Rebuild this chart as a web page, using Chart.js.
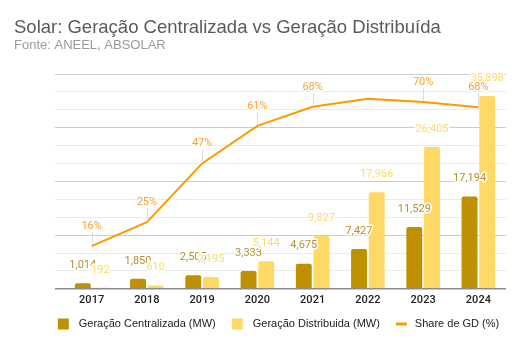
<!DOCTYPE html>
<html lang="pt-BR">
<head>
<meta charset="utf-8">
<title>Solar: Geração Centralizada vs Geração Distribuída</title>
<script src="https://cdn.jsdelivr.net/npm/chart.js@4/dist/chart.umd.min.js"></script>
<style>
    html, body { margin: 0; padding: 0; background: #fff; }
    #wrap { width: 515px; height: 339px; }
</style>
</head>
<body>
<div id="wrap"><canvas id="solarChart"></canvas></div>
<script>
// Dados (MW) - ANEEL, ABSOLAR
const anos = ['2017', '2018', '2019', '2020', '2021', '2022', '2023', '2024'];
const geracaoCentralizada = [1014, 1850, 2505, 3333, 4675, 7427, 11529, 17194];
const geracaoDistribuida = [192, 610, 2195, 5144, 9827, 17966, 26405, 35898];
const shareGD = [15.9, 24.8, 46.7, 60.7, 67.8, 70.8, 69.6, 67.6];
const shareSemRotulo = ['2022']; // rótulo oculto no original

const TITULO = 'Solar: Geração Centralizada vs Geração Distribuída';
const SUBTITULO = 'Fonte: ANEEL, ABSOLAR';

const CORES = {
    centralizada: '#bf9000',
    distribuida: '#ffd966',
    share: '#ff9900',
    rotuloCentralizada: '#b3902f',
    rotuloShare: '#ff9f2e'
};

const FONTE_TEXTO = '"Liberation Sans", Arial, sans-serif';

const fmt = (v) => v.toLocaleString('en-US');

// Título e subtítulo com linha de base fixa
const tituloPlugin = {
    id: 'tituloManual',
    afterDraw(chart) {
        const ctx = chart.ctx;
        ctx.save();
        ctx.textAlign = 'left';
        ctx.textBaseline = 'alphabetic';
        ctx.font = '18.5px ' + FONTE_TEXTO;
        ctx.fillStyle = '#5a5a5a';
        ctx.fillText(TITULO, 14, 33);
        ctx.font = '13px ' + FONTE_TEXTO;
        ctx.fillStyle = '#9a9a9a';
        ctx.fillText(SUBTITULO, 14, 49);
        ctx.restore();
    }
};

// Rótulos de valores sobre barras e pontos
const rotulosPlugin = {
    id: 'rotulos',
    afterDatasetsDraw(chart) {
        const ctx = chart.ctx;
        ctx.save();
        ctx.font = '11px Roboto';
        ctx.textAlign = 'center';
        ctx.textBaseline = 'middle';
        ctx.lineJoin = 'round';

        [0, 1].forEach((di) => {
            const meta = chart.getDatasetMeta(di);
            const ds = chart.data.datasets[di];
            meta.data.forEach((bar, i) => {
                const txt = fmt(ds.data[i]);
                const y = bar.y - 18;
                ctx.strokeStyle = '#fff';
                ctx.lineWidth = 3;
                ctx.strokeText(txt, bar.x, y);
                ctx.fillStyle = di === 0 ? CORES.rotuloCentralizada : CORES.distribuida;
                ctx.fillText(txt, bar.x, y);
            });
        });

        const metaLinha = chart.getDatasetMeta(2);
        metaLinha.data.forEach((pt, i) => {
            if (shareSemRotulo.includes(anos[i])) return;
            const y = pt.y - 20;
            ctx.strokeStyle = '#dddddd';
            ctx.lineWidth = 1;
            ctx.beginPath();
            ctx.moveTo(Math.round(pt.x) + 0.5, y + 6);
            ctx.lineTo(Math.round(pt.x) + 0.5, pt.y - 1);
            ctx.stroke();
            const txt = Math.round(shareGD[i]) + '%';
            ctx.strokeStyle = '#fff';
            ctx.lineWidth = 3;
            ctx.strokeText(txt, pt.x, y);
            ctx.fillStyle = CORES.rotuloShare;
            ctx.fillText(txt, pt.x, y);
        });
        ctx.restore();
    }
};

// Legenda desenhada à mão (quadrados + linha)
const legendaPlugin = {
    id: 'legenda',
    afterDraw(chart) {
        const ctx = chart.ctx;
        const area = chart.chartArea;
        ctx.save();
        ctx.font = '11px ' + FONTE_TEXTO;
        ctx.textBaseline = 'middle';
        const itens = chart.data.datasets.map((ds) => ({
            label: ds.label,
            cor: ds.type === 'line' ? ds.borderColor : ds.backgroundColor,
            linha: ds.type === 'line'
        }));
        const box = 11, gapTexto = 10, gapItem = 16;
        let total = 0;
        itens.forEach((it, i) => {
            it.w = box + (it.linha ? 8 : gapTexto) + ctx.measureText(it.label).width;
            total += it.w + (i > 0 ? gapItem : 0);
        });
        let x = (area.left - 9 + area.right) / 2 - 2 - total / 2;
        const y = 324;
        itens.forEach((it) => {
            ctx.fillStyle = it.cor;
            if (it.linha) {
                ctx.fillRect(x, y - 1.5, box, 3);
            } else {
                ctx.fillRect(x, y - box / 2, box, box);
            }
            ctx.fillStyle = '#222';
            ctx.fillText(it.label, x + box + (it.linha ? 8 : gapTexto), y);
            x += it.w + gapItem;
        });
        ctx.restore();
    }
};

const ctx = document.getElementById('solarChart').getContext('2d');
new Chart(ctx, {
    data: {
        labels: anos,
        datasets: [
            {
                type: 'bar',
                label: 'Geração Centralizada (MW)',
                data: geracaoCentralizada,
                backgroundColor: CORES.centralizada,
                borderRadius: { topLeft: 2, topRight: 2 },
                borderSkipped: false,
                categoryPercentage: 0.64,
                barPercentage: 0.9,
                yAxisID: 'y',
                order: 2
            },
            {
                type: 'bar',
                label: 'Geração Distribuida (MW)',
                data: geracaoDistribuida,
                backgroundColor: CORES.distribuida,
                borderRadius: { topLeft: 2, topRight: 2 },
                borderSkipped: false,
                categoryPercentage: 0.64,
                barPercentage: 0.9,
                yAxisID: 'y',
                order: 2
            },
            {
                type: 'line',
                label: 'Share de GD (%)',
                data: shareGD,
                borderColor: CORES.share,
                backgroundColor: CORES.share,
                borderWidth: 2,
                pointRadius: 0,
                tension: 0,
                yAxisID: 'y1',
                order: 1
            }
        ]
    },
    options: {
        responsive: true,
        maintainAspectRatio: false,
        animation: false,
        devicePixelRatio: 1,
        layout: { padding: { left: 14, right: 9, top: 74, bottom: 27 } },
        plugins: {
            legend: { display: false },
            tooltip: { enabled: false },
            title: { display: false },
            subtitle: { display: false }
        },
        scales: {
            x: {
                grid: { display: false, drawTicks: false },
                border: { display: false },
                ticks: {
                    color: '#222',
                    font: { family: 'Roboto', size: 11, weight: '500' },
                    padding: 5
                }
            },
            y: {
                position: 'left',
                min: 0,
                max: 40000,
                afterFit: (scale) => { scale.width = 50; },
                afterBuildTicks: (scale) => {
                    scale.ticks = Array.from({ length: 13 }, (_, i) => ({ value: i * 40000 / 12 }));
                },
                grid: {
                    drawTicks: true,
                    tickLength: 9,
                    color: (c) => c.index === 0 ? '#8c8c8c' : (c.index % 3 === 0 ? '#cccccc' : '#ebebeb'),
                    lineWidth: (c) => c.index === 0 ? 1.5 : 1
                },
                border: { display: false },
                ticks: { display: false }
            },
            y1: {
                display: false,
                min: 0,
                max: 80
            }
        }
    },
    plugins: [rotulosPlugin, legendaPlugin, tituloPlugin]
});
</script>
</body>
</html>
